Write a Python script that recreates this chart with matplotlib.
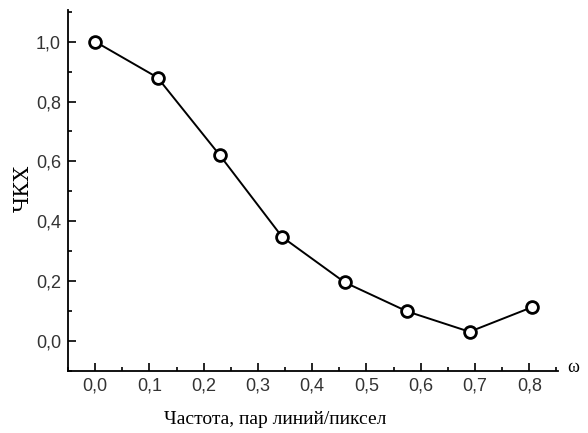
import matplotlib
matplotlib.use("Agg")
import matplotlib.pyplot as plt
from matplotlib.ticker import MultipleLocator, FuncFormatter

# --- Daten ---------------------------------------------------------------
freq = [0.0, 0.115, 0.23, 0.345, 0.46, 0.575, 0.69, 0.805]
mtf = [1.0, 0.88, 0.62, 0.347, 0.196, 0.099, 0.031, 0.113]

x_label = "Частота, пар линий/пиксел"
y_label = "ЧКХ"

tick_font = ["Liberation Sans Narrow", "Liberation Sans", "DejaVu Sans"]
label_font = ["Liberation Serif", "DejaVu Serif"]


def comma(v, _pos):
    return f"{v:.1f}".replace(".", ",")


fig = plt.figure(figsize=(5.88, 4.33), dpi=100)
ax = fig.add_axes([0.1156, 0.1432, 0.8334, 0.834])

ax.plot(freq, mtf, color="black", linewidth=1.4, marker="o", markersize=8.5,
        markerfacecolor="white", markeredgecolor="black", markeredgewidth=2,
        zorder=3)

ax.set_xlim(-0.05, 0.853)
ax.set_ylim(-0.1, 1.106)

ax.xaxis.set_major_locator(MultipleLocator(0.1))
ax.xaxis.set_minor_locator(MultipleLocator(0.05))
ax.yaxis.set_major_locator(MultipleLocator(0.2))
ax.yaxis.set_minor_locator(MultipleLocator(0.1))
ax.xaxis.set_major_formatter(FuncFormatter(comma))
ax.yaxis.set_major_formatter(FuncFormatter(comma))

for side in ("top", "right"):
    ax.spines[side].set_visible(False)
for side in ("left", "bottom"):
    ax.spines[side].set_linewidth(1.3)

ax.tick_params(which="major", direction="in", length=6, width=1.2,
               labelsize=13, pad=5, colors="black")
ax.tick_params(which="minor", direction="in", length=3, width=1.2)
ax.tick_params(axis="x", labelcolor="#333333")
ax.tick_params(axis="y", labelcolor="#333333")
for lbl in ax.get_xticklabels() + ax.get_yticklabels():
    lbl.set_family(tick_font)

ax.set_xlabel(x_label, family=label_font, fontsize=14)
ax.xaxis.set_label_coords(0.422, -0.11)
ax.set_ylabel(y_label, family=["DejaVu Serif"], fontsize=15)
ax.yaxis.set_label_coords(-0.072, 0.507)

fig.text(0.974, 1 - 367 / 433, "ω", family=label_font, fontsize=13,
         ha="center", va="center")

fig.savefig("out.png", dpi=100)
